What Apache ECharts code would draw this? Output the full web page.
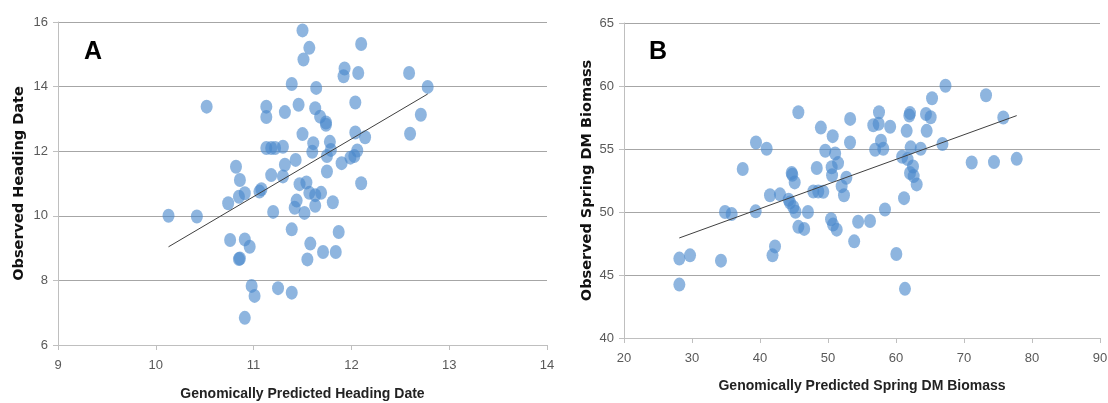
<!DOCTYPE html>
<html><head><meta charset="utf-8">
<script src="https://cdn.jsdelivr.net/npm/echarts@6/dist/echarts.min.js"></script>
<style>html,body{margin:0;padding:0;background:#fff}#c{width:1108px;height:403px}</style>
</head><body><div id="c"></div>
<script>
// Panel A: Heading date
const predictedHeadingDate = [10.13,10.42,10.52,10.74,10.76,10.82,10.85,10.85,10.86,10.86,10.91,10.91,10.91,10.96,10.98,11.01,11.06,11.08,11.13,11.13,11.13,11.18,11.22,11.30,11.18,11.20,11.25,11.30,11.32,11.32,11.39,11.39,11.39,11.42,11.44,11.43,11.46,11.47,11.50,11.51,11.50,11.52,11.54,11.55,11.57,11.57,11.58,11.60,11.61,11.63,11.63,11.63,11.64,11.68,11.69,11.71,11.74,11.74,11.75,11.75,11.78,11.79,11.81,11.84,11.87,11.90,11.92,11.93,11.99,12.03,12.04,12.04,12.06,12.07,12.10,12.10,12.14,12.59,12.60,12.71,12.78];
const observedHeadingDate = [10.00,9.98,13.38,10.39,9.25,11.52,10.59,8.66,8.68,11.11,10.70,9.27,6.84,9.04,7.83,7.52,10.75,10.82,13.38,13.06,12.10,12.10,12.10,12.14,11.26,10.12,7.76,11.22,11.58,13.21,14.08,9.58,7.62,10.25,10.47,11.73,13.44,10.98,15.74,14.84,12.53,10.09,11.03,8.65,15.20,10.71,9.14,11.98,12.25,13.33,10.64,10.31,13.96,13.07,10.71,8.88,12.89,12.82,11.85,11.37,12.29,12.04,10.42,8.88,9.50,11.63,14.32,14.56,11.80,11.85,13.51,12.58,12.02,14.42,15.32,11.01,12.43,14.42,12.54,13.13,13.99];
const trendA = [[10.13, 9.04], [12.78, 13.77]];
const xTicksA = [9, 10, 11, 12, 13, 14];
const yTicksA = [6, 8, 10, 12, 14, 16];

// Panel B: Spring DM biomass
const predictedBiomass = [28.14,28.14,29.71,34.26,34.85,35.83,37.46,39.36,39.41,40.98,41.47,41.84,42.21,42.94,44.21,44.41,44.66,44.75,44.90,45.10,45.22,45.64,45.64,46.50,47.05,47.84,48.35,48.57,48.95,49.31,49.60,50.45,50.54,50.60,50.69,50.74,51.05,51.28,51.48,52.01,52.35,52.70,53.24,53.26,53.85,54.43,56.18,56.66,56.93,57.45,57.50,57.79,58.13,58.38,59.14,60.05,60.90,61.18,61.32,61.57,61.70,61.96,62.06,62.06,62.16,62.50,62.60,63.04,63.63,64.41,64.51,65.10,65.30,66.83,67.28,71.13,73.24,74.41,75.78,77.75];
const observedBiomass = [46.30,44.24,46.56,46.14,50.00,49.84,53.41,50.05,55.52,55.02,51.33,46.56,47.27,51.40,50.97,50.75,53.09,52.96,50.40,52.35,50.02,57.92,48.82,48.66,50.00,51.63,53.49,51.63,56.70,51.60,54.86,49.42,53.55,52.92,56.02,49.00,54.64,48.60,53.88,52.05,51.33,52.72,55.52,57.39,47.67,49.23,49.28,56.89,54.94,57.00,57.92,55.65,55.02,50.20,56.76,46.67,54.38,51.10,43.90,56.44,54.20,57.65,57.85,53.09,55.13,53.61,52.85,52.19,55.02,57.78,56.44,57.52,59.03,55.40,60.02,53.93,59.27,53.96,57.50,54.22];
const trendB = [[28.13, 47.94], [77.75, 57.65]];
const xTicksB = [20, 30, 40, 50, 60, 70, 80, 90];
const yTicksB = [40, 45, 50, 55, 60, 65];

const tickFont = "'Liberation Sans',sans-serif";
const titleFontX = "'Liberation Sans',sans-serif";
const titleFontY = "'DejaVu Sans','Liberation Sans',sans-serif";
const dotColor = 'rgba(74,136,203,0.78)';

function pairs(xs, ys){ return xs.map((x,i)=>[x, ys[i]]); }

function xAxis(gi, ticks, name, gap){
  return {
    gridIndex: gi, type: 'value', min: ticks[0], max: ticks[ticks.length-1],
    interval: ticks[1]-ticks[0],
    name: name, nameLocation: 'middle', nameGap: gap,
    nameTextStyle: {fontFamily: titleFontX, fontWeight: 'bold', fontSize: 14, color: '#222'},
    axisLine: {show: true, lineStyle: {color: '#bfbfbf', width: 1}},
    axisTick: {show: true, length: 5, lineStyle: {color: '#bfbfbf'}},
    axisLabel: {fontFamily: tickFont, fontSize: 13, color: '#595959', margin: 14},
    splitLine: {show: false}
  };
}
function yAxis(gi, ticks, name, gap){
  return {
    gridIndex: gi, type: 'value', min: ticks[0], max: ticks[ticks.length-1],
    interval: ticks[1]-ticks[0],
    name: name, nameLocation: 'middle', nameGap: gap,
    nameTextStyle: {fontFamily: titleFontY, fontWeight: 'bold', fontSize: 14.5, color: '#111'},
    axisLine: {show: true, lineStyle: {color: '#bfbfbf', width: 1}},
    axisTick: {show: true, length: 5, lineStyle: {color: '#bfbfbf'}},
    axisLabel: {fontFamily: tickFont, fontSize: 13, color: '#595959', margin: 10},
    splitLine: {show: true, lineStyle: {color: '#a6a6a6', width: 1}}
  };
}

const chart = echarts.init(document.getElementById('c'), null, {renderer: 'canvas'});
chart.setOption({
  animation: false,
  backgroundColor: '#fff',
  grid: [
    {left: 58, right: 561, top: 22, bottom: 58, containLabel: false, outerBoundsMode: 'none'},
    {left: 624, right: 8, top: 23, bottom: 65, containLabel: false, outerBoundsMode: 'none'}
  ],
  xAxis: [
    xAxis(0, xTicksA, 'Genomically Predicted Heading Date', 42),
    xAxis(1, xTicksB, 'Genomically Predicted Spring DM Biomass', 41)
  ],
  yAxis: [
    yAxis(0, yTicksA, 'Observed Heading Date', 31),
    yAxis(1, yTicksB, 'Observed Spring DM Biomass', 29)
  ],
  graphic: [
    {type: 'text', left: 84, top: 40, style: {text: 'A', font: "bold 25px 'Liberation Sans',sans-serif", fill: '#000'}},
    {type: 'text', left: 649, top: 40, style: {text: 'B', font: "bold 25px 'Liberation Sans',sans-serif", fill: '#000'}}
  ],
  series: [
    {type: 'scatter', xAxisIndex: 0, yAxisIndex: 0, data: pairs(predictedHeadingDate, observedHeadingDate),
     symbol: 'circle', symbolSize: [12, 14], itemStyle: {color: dotColor}, z: 3},
    {type: 'line', xAxisIndex: 0, yAxisIndex: 0, data: trendA, symbol: 'none',
     lineStyle: {color: '#404040', width: 1}, z: 4, silent: true},
    {type: 'scatter', xAxisIndex: 1, yAxisIndex: 1, data: pairs(predictedBiomass, observedBiomass),
     symbol: 'circle', symbolSize: [12, 14], itemStyle: {color: dotColor}, z: 3},
    {type: 'line', xAxisIndex: 1, yAxisIndex: 1, data: trendB, symbol: 'none',
     lineStyle: {color: '#404040', width: 1}, z: 4, silent: true}
  ]
});
</script></body></html>
